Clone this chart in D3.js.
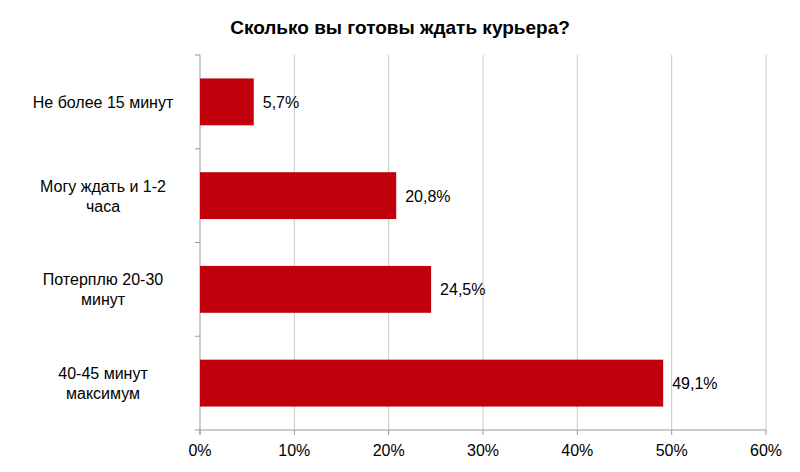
<!DOCTYPE html>
<html><head><meta charset="utf-8">
<script src="https://cdn.jsdelivr.net/npm/d3@7"></script>
<style>body{margin:0;background:#fff}text{font-family:Arial,"Liberation Sans",sans-serif}</style>
</head><body><svg id="c" width="800" height="472"></svg>
<script>
const categories = [["Не более 15 минут"], ["Могу ждать и 1-2", "часа"], ["Потерплю 20-30", "минут"], ["40-45 минут", "максимум"]];
const values = [5.7, 20.8, 24.5, 49.1];
const ticks = [0, 10, 20, 30, 40, 50, 60];

const svg = d3.select("#c");
const plotLeft = 200, plotRight = 766, plotTop = 55, plotBottom = 430;
const x = d3.scaleLinear().domain([0, 60]).range([plotLeft, plotRight]);
const y = d3.scaleBand().domain(d3.range(values.length)).range([plotTop, plotBottom]).paddingInner(0.5).paddingOuter(0.25);

svg.append("text").attr("x", 400).attr("y", 34).attr("text-anchor", "middle")
    .attr("font-size", 19).attr("font-weight", "bold").text("Сколько вы готовы ждать курьера?");

svg.selectAll(".grid").data(ticks.slice(1)).enter().append("line")
    .attr("x1", d => x(d)).attr("x2", d => x(d)).attr("y1", plotTop).attr("y2", plotBottom)
    .attr("stroke", "#c8c8c8");

svg.append("line").attr("x1", plotLeft).attr("x2", plotLeft).attr("y1", plotTop).attr("y2", plotBottom + 5).attr("stroke", "#999");
const step = (plotBottom - plotTop) / values.length;
d3.range(values.length + 1).forEach(i => {
    svg.append("line").attr("x1", plotLeft - 5).attr("x2", plotLeft).attr("y1", plotTop + i * step).attr("y2", plotTop + i * step).attr("stroke", "#999");
});
svg.append("line").attr("x1", plotLeft).attr("x2", plotRight).attr("y1", plotBottom).attr("y2", plotBottom).attr("stroke", "#999");
ticks.forEach(t => {
    svg.append("line").attr("x1", x(t)).attr("x2", x(t)).attr("y1", plotBottom).attr("y2", plotBottom + 5).attr("stroke", "#999");
    svg.append("text").attr("x", x(t)).attr("y", plotBottom + 26).attr("text-anchor", "middle").attr("font-size", 16).text(t + "%");
});

svg.selectAll(".bar").data(values).enter().append("rect")
    .attr("x", plotLeft).attr("y", (d, i) => y(i)).attr("width", d => x(d) - plotLeft).attr("height", y.bandwidth())
    .attr("fill", "#c0000b");

svg.selectAll(".val").data(values).enter().append("text")
    .attr("x", d => x(d) + 9).attr("y", (d, i) => y(i) + y.bandwidth() / 2 + 6)
    .attr("font-size", 16).text(d => String(d).replace(".", ",") + "%");

categories.forEach((lines, i) => {
    const cy = y(i) + y.bandwidth() / 2;
    const t = svg.append("text").attr("text-anchor", "middle").attr("font-size", 16);
    lines.forEach((l, j) => {
        t.append("tspan").attr("x", 103).attr("y", cy + 6 + (j - (lines.length - 1) / 2) * 20).text(l);
    });
});
</script></body></html>
